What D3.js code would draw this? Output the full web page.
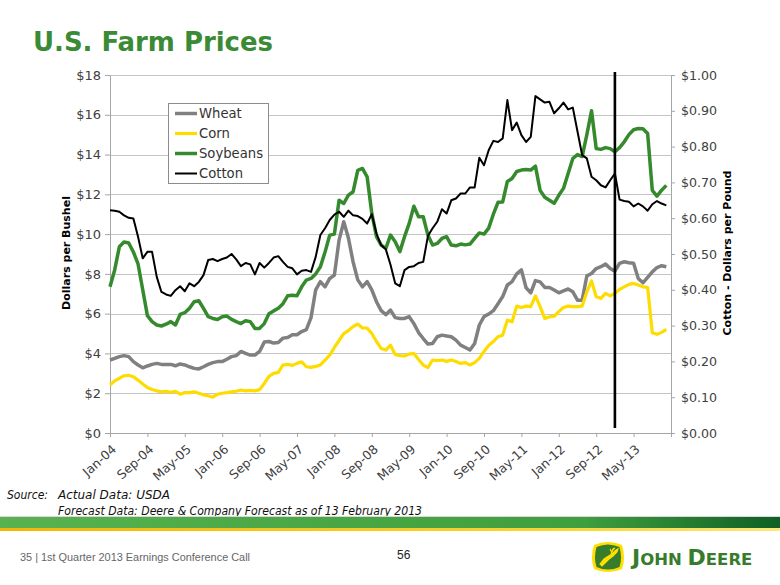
<!DOCTYPE html>
<html><head><meta charset="utf-8">
<script src="https://cdn.jsdelivr.net/npm/d3@7"></script>
<style>
html,body{margin:0;padding:0;background:#fff;}
svg{display:block;}
</style></head>
<body>
<svg id="c" width="780" height="585"></svg>
<script>
// ---- data (monthly, Jan-04 .. Dec-13) ----
const tickLabels = ["Jan-04","Sep-04","May-05","Jan-06","Sep-06","May-07","Jan-08","Sep-08","May-09","Jan-10","Sep-10","May-11","Jan-12","Sep-12","May-13"];
const seriesNames = ["Wheat","Corn","Soybeans","Cotton"];
const wheat = [
 3.67,3.75,3.84,3.89,3.84,3.59,3.42,3.28,3.37,3.45,
 3.50,3.45,3.45,3.45,3.38,3.47,3.42,3.33,3.25,3.22,
 3.33,3.45,3.54,3.59,3.59,3.71,3.84,3.89,4.10,4.00,
 3.92,3.92,4.10,4.57,4.60,4.52,4.55,4.77,4.80,4.94,
 4.94,5.10,5.20,5.80,7.20,7.61,7.35,7.77,7.94,9.70,
 10.62,9.80,8.60,7.70,7.35,7.61,7.20,6.60,6.15,5.95,
 6.18,5.80,5.76,5.76,5.85,5.50,5.05,4.75,4.47,4.50,
 4.84,4.92,4.88,4.84,4.67,4.42,4.30,4.17,4.50,5.43,
 5.85,5.98,6.15,6.50,6.86,7.44,7.61,8.00,8.20,7.30,
 7.05,7.66,7.60,7.32,7.32,7.19,7.05,7.15,7.24,7.10,
 6.68,6.68,7.90,8.02,8.27,8.36,8.49,8.27,8.14,8.53,
 8.61,8.56,8.53,7.77,7.55,7.82,8.10,8.32,8.41,8.36];
const corn = [
 2.41,2.62,2.75,2.88,2.90,2.83,2.66,2.46,2.29,2.19,
 2.12,2.07,2.10,2.05,2.10,1.95,2.03,2.03,2.07,2.00,
 1.92,1.87,1.80,1.95,2.00,2.03,2.07,2.10,2.16,2.12,
 2.14,2.12,2.18,2.49,2.85,3.00,3.05,3.42,3.45,3.40,
 3.50,3.58,3.33,3.30,3.35,3.42,3.66,3.92,4.30,4.65,
 5.00,5.15,5.35,5.48,5.28,5.28,5.00,4.60,4.25,4.17,
 4.42,3.95,3.89,3.87,3.97,4.00,3.70,3.42,3.29,3.67,
 3.64,3.67,3.60,3.67,3.59,3.50,3.54,3.42,3.54,3.75,
 4.10,4.40,4.60,4.84,4.92,5.68,5.59,6.38,6.31,6.38,
 6.35,6.89,6.35,5.76,5.84,5.87,6.10,6.31,6.38,6.35,
 6.35,6.38,7.10,7.65,6.85,6.77,7.02,6.89,7.02,7.22,
 7.35,7.47,7.52,7.44,7.35,7.32,5.04,4.96,5.06,5.21];
const soybeans = [
 7.35,8.20,9.36,9.60,9.55,9.10,8.50,7.20,5.90,5.60,
 5.43,5.38,5.47,5.60,5.43,5.96,6.05,6.27,6.60,6.65,
 6.27,5.85,5.76,5.71,5.85,5.88,5.71,5.60,5.50,5.64,
 5.60,5.26,5.26,5.50,6.00,6.14,6.27,6.50,6.90,6.93,
 6.90,7.35,7.69,7.77,8.00,8.36,9.10,9.95,10.00,11.70,
 11.54,11.96,12.13,13.20,13.30,12.88,11.04,9.87,9.45,9.28,
 9.95,9.62,9.12,9.87,10.54,11.40,10.87,10.87,9.95,9.45,
 9.53,9.78,9.87,9.45,9.41,9.50,9.46,9.50,9.78,10.06,
 10.00,10.30,11.00,11.60,11.62,12.65,12.80,13.15,13.22,13.25,
 13.22,13.42,12.20,11.85,11.70,11.55,11.95,12.30,13.05,13.80,
 14.00,13.90,15.00,16.20,14.30,14.26,14.35,14.30,14.14,14.35,
 14.64,15.00,15.25,15.31,15.30,15.06,12.20,11.91,12.21,12.45];
const cotton = [
 0.622,0.621,0.618,0.608,0.601,0.599,0.548,0.488,0.506,0.506,
 0.436,0.394,0.387,0.383,0.399,0.410,0.396,0.418,0.410,0.422,
 0.441,0.483,0.486,0.480,0.486,0.490,0.500,0.485,0.466,0.475,
 0.471,0.443,0.475,0.462,0.475,0.490,0.494,0.478,0.464,0.460,
 0.443,0.453,0.455,0.450,0.492,0.553,0.572,0.595,0.610,0.618,
 0.604,0.621,0.608,0.606,0.598,0.585,0.611,0.557,0.525,0.513,
 0.470,0.418,0.410,0.455,0.464,0.466,0.475,0.478,0.550,0.572,
 0.590,0.625,0.613,0.650,0.655,0.669,0.669,0.686,0.686,0.769,
 0.748,0.790,0.816,0.813,0.823,0.930,0.846,0.867,0.832,0.813,
 0.827,0.941,0.932,0.923,0.925,0.893,0.907,0.923,0.904,0.909,
 0.842,0.776,0.767,0.716,0.706,0.692,0.686,0.706,0.725,0.652,
 0.648,0.646,0.633,0.641,0.633,0.621,0.639,0.648,0.641,0.636];
const forecastStart = 108; // Jan-13
const leftTicks = [0,2,4,6,8,10,12,14,16,18];
const rightTicks = [0,0.1,0.2,0.3,0.4,0.5,0.6,0.7,0.8,0.9,1.0];

// ---- layout ----
const svg = d3.select("#c");
const L = 110, R = 671, T = 75, B = 433;
const x = d3.scaleLinear().domain([0,120]).range([L,R]);
const y = d3.scaleLinear().domain([0,18]).range([B,T]);
const y2 = d3.scaleLinear().domain([0,1]).range([B,T]);
const tickFont = "DejaVu Sans, Verdana, sans-serif";
const axisGrey = "#a6a6a6";

// title
svg.append("text").attr("x",33).attr("y",51)
  .attr("font-family","DejaVu Sans Condensed, DejaVu Sans, sans-serif")
  .attr("font-weight","bold").attr("font-size",27).attr("fill","#3b8a35")
  .attr("textLength",240).attr("lengthAdjust","spacingAndGlyphs")
  .text("U.S. Farm Prices");

// grid
svg.append("g").selectAll("line").data(leftTicks.slice(1)).join("line")
  .attr("x1",L).attr("x2",R).attr("y1",d=>Math.round(y(d))+0.5).attr("y2",d=>Math.round(y(d))+0.5)
  .attr("stroke","#c4c4c4").attr("stroke-width",1);

function styleAxis(g){
  g.select(".domain").attr("stroke",axisGrey);
  g.selectAll(".tick line").attr("stroke",axisGrey);
  g.selectAll("text").attr("fill","#404040").attr("font-family",tickFont).attr("font-size",13);
}
// left axis
svg.append("g").attr("transform",`translate(${L},0)`)
  .call(d3.axisLeft(y).tickValues(leftTicks).tickFormat(d=>"$"+d).tickSize(5).tickSizeOuter(0).tickPadding(4))
  .call(styleAxis);
// right axis
svg.append("g").attr("transform",`translate(${R},0)`)
  .call(d3.axisRight(y2).tickValues(rightTicks).tickFormat(d=>"$"+d.toFixed(2)).tickSize(4).tickSizeOuter(0).tickPadding(6))
  .call(styleAxis).call(g=>g.selectAll("text").attr("font-size",12.6));
// bottom axis
const xt = d3.range(0,121,8);
const gx = svg.append("g").attr("transform",`translate(0,${B})`)
  .call(d3.axisBottom(x).tickValues(xt).tickFormat((d,i)=>tickLabels[i]||"").tickSize(4).tickSizeOuter(0).tickPadding(3))
  .call(styleAxis);
gx.selectAll(".tick text").attr("font-size",12.5).attr("text-anchor","end")
  .attr("dy","0.35em").attr("transform","translate(-1,9) rotate(-42)");

// axis titles
svg.append("text").attr("transform","translate(70,253) rotate(-90)")
  .attr("text-anchor","middle").attr("font-family",tickFont).attr("font-weight","bold")
  .attr("font-size",11).attr("fill","#000").text("Dollars per Bushel");
svg.append("text").attr("transform","translate(731,253) rotate(-90)")
  .attr("text-anchor","middle").attr("font-family",tickFont).attr("font-weight","bold")
  .attr("font-size",11).attr("fill","#000").text("Cotton - Dollars per Pound");

// lines
const colors = {Wheat:"#808080",Corn:"#ffdc00",Soybeans:"#358a2d",Cotton:"#000000"};
const widths = {Wheat:3.5,Corn:3.2,Soybeans:3.5,Cotton:2};
const lineL = d3.line().x((d,i)=>x(i)).y(d=>y(d)).curve(d3.curveLinear);
const lineR = d3.line().x((d,i)=>x(i)).y(d=>y2(d)).curve(d3.curveLinear);
const plotG = svg.append("g").attr("fill","none").attr("stroke-linejoin","round");
[["Wheat",wheat,lineL],["Corn",corn,lineL],["Soybeans",soybeans,lineL],["Cotton",cotton,lineR]].forEach(([n,arr,ln])=>{
  plotG.append("path").attr("d",ln(arr)).attr("stroke",colors[n]).attr("stroke-width",widths[n]);
});
// forecast divider
svg.append("line").attr("x1",x(forecastStart)).attr("x2",x(forecastStart))
  .attr("y1",72).attr("y2",428).attr("stroke","#000").attr("stroke-width",2.6);

// legend
const lg = svg.append("g").attr("transform","translate(168,103)");
lg.append("rect").attr("x",0.5).attr("y",0.5).attr("width",100).attr("height",80)
  .attr("fill","#fff").attr("stroke","#8c8c8c").attr("stroke-width",1);
seriesNames.forEach((n,i)=>{
  const yy = 10.5 + i*20;
  lg.append("line").attr("x1",7).attr("x2",29).attr("y1",yy).attr("y2",yy)
    .attr("stroke",colors[n]).attr("stroke-width",widths[n]);
  lg.append("text").attr("x",31).attr("y",yy).attr("dy","0.36em")
    .attr("font-family",tickFont).attr("font-size",13.2).attr("fill","#333").text(n);
});

// source
const srcFont = "DejaVu Sans Condensed, DejaVu Sans, sans-serif";
svg.append("text").attr("x",7).attr("y",499).attr("font-family",srcFont).attr("font-style","italic")
  .attr("font-size",12).attr("fill","#111").text("Source:");
svg.append("text").attr("x",58).attr("y",499).attr("font-family",srcFont).attr("font-style","italic")
  .attr("font-size",12).attr("fill","#111").attr("textLength",112).attr("lengthAdjust","spacingAndGlyphs").text("Actual Data: USDA");
svg.append("text").attr("x",58).attr("y",515).attr("font-family",srcFont).attr("font-style","italic")
  .attr("font-size",12).attr("fill","#111").attr("textLength",364).attr("lengthAdjust","spacingAndGlyphs")
  .text("Forecast Data: Deere & Company Forecast as of 13 February 2013");

// footer band
const defs = svg.append("defs");
const gr = defs.append("linearGradient").attr("id","band").attr("x1",0).attr("x2",1);
gr.append("stop").attr("offset",0).attr("stop-color","#58b24f");
gr.append("stop").attr("offset",0.75).attr("stop-color","#3f9e3e");
gr.append("stop").attr("offset",1).attr("stop-color","#0f5f25");
const gy = defs.append("linearGradient").attr("id","yband").attr("x1",0).attr("x2",1);
gy.append("stop").attr("offset",0).attr("stop-color","#f2b705");
gy.append("stop").attr("offset",0.7).attr("stop-color","#f7d531");
gy.append("stop").attr("offset",1).attr("stop-color","#fbe87a");
svg.append("rect").attr("x",0).attr("y",516).attr("width",780).attr("height",1).attr("fill","#d9d9d9");
svg.append("rect").attr("x",0).attr("y",517).attr("width",780).attr("height",11).attr("fill","url(#band)");
svg.append("rect").attr("x",0).attr("y",528).attr("width",780).attr("height",3).attr("fill","url(#yband)");

// footer text
svg.append("text").attr("x",20).attr("y",561).attr("font-family","Liberation Sans Narrow, Liberation Sans, sans-serif")
  .attr("font-size",11.5).attr("fill","#666").attr("textLength",230).attr("lengthAdjust","spacingAndGlyphs")
  .text("35  |  1st Quarter 2013 Earnings Conference Call");
svg.append("text").attr("x",397).attr("y",559).attr("font-family","Liberation Sans, Arial, sans-serif")
  .attr("font-size",12).attr("fill","#222").text("56");

// John Deere logo
const logo = svg.append("g").attr("transform","translate(591,541)");
logo.append("path").attr("d","M3,4 Q17,-2 31,4 Q35,17 31,28 Q17,34 3,28 Q-1,17 3,4 Z")
  .attr("fill","#ffde00");
logo.append("path").attr("d","M5.5,6 Q17,1 28.5,6 Q31.5,17 28.5,26 Q17,31 5.5,26 Q2.5,17 5.5,6 Z")
  .attr("fill","#367c2b");
logo.append("path").attr("d","M9,23 L13,18 L16,16 L21,13 L25,9 L27,8 L26,11 L22,15 L18,18 L15,21 L11,25 Z M20,13 L22,8 L24,7 M21,12 L19,8")
  .attr("fill","#ffde00").attr("stroke","#ffde00").attr("stroke-width",1.2);
const jd = svg.append("text").attr("x",632).attr("y",565).attr("font-family","DejaVu Sans, sans-serif")
  .attr("font-weight","bold").attr("fill","#367c2b");
jd.append("tspan").attr("font-size",22).text("J");
jd.append("tspan").attr("font-size",16.5).text("OHN ");
jd.append("tspan").attr("font-size",22).text("D");
jd.append("tspan").attr("font-size",16.5).text("EERE");
</script>
</body></html>
